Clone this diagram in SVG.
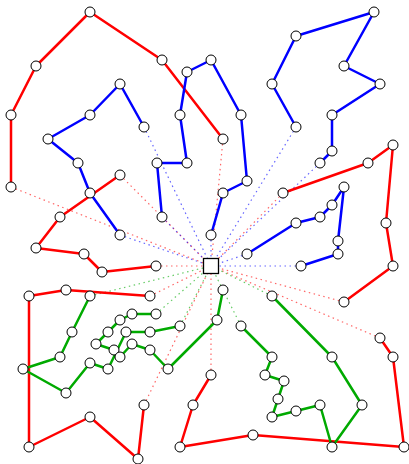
<svg xmlns="http://www.w3.org/2000/svg" width="409" height="464" viewBox="0 0 409 464">
<style>
.r{stroke:#ff0000}.b{stroke:#0000ff}.g{stroke:#00aa00}
.route{fill:none;stroke-width:2.5;stroke-linejoin:round;stroke-linecap:round}
.dot{fill:none;stroke-width:1.2;stroke-dasharray:1.5 3.5;opacity:0.6}
.node circle{fill:#fff;stroke:#000;stroke-width:1}
.depot rect{fill:#fff;stroke:#000;stroke-width:1.3}
</style>
<rect width="409" height="464" fill="#fff"/>
<g id="connectors">
<g id="depot-links">
<path class="dot r" d="M11,187L211,266M223,139L211,266M120,175L211,266M156,266L211,266M150,296L211,266M144,405L211,266M211,375L211,266M380,338L211,266M344,302L211,266M283,193L211,266"/>
<path class="dot b" d="M120,235L211,266M144,127L211,266M162,217L211,266M211,235L211,266M296,127L211,266M320,163L211,266M247,254L211,266M301,266L211,266"/>
<path class="dot g" d="M90,296L211,266M180,326L211,266M156,314L211,266M223,290L211,266M241,326L211,266M272,296L211,266"/>
</g>
<path id="r1" class="route r" d="M11,187L11,115L36,66L90,12L162,60L223,139"/>
<path id="r2" class="route r" d="M120,175L60,217L36,248L84,254L102,272L156,266"/>
<path id="r3" class="route r" d="M150,296L66,290L29,296L29,447L90,417L138,459L144,405"/>
<path id="r4" class="route r" d="M211,375L193,405L180,447L253,435L404,447L393,357L380,338"/>
<path id="r5" class="route r" d="M344,302L393,266L386,223L393,145L368,163L283,193"/>
<path id="b1" class="route b" d="M120,235L90,193L78,163L48,139L90,115L120,84L144,127"/>
<path id="b2" class="route b" d="M162,217L157,163L187,163L180,115L187,72L211,60L241,115L247,181L223,193L211,235"/>
<path id="b3" class="route b" d="M296,127L272,84L296,36L374,12L344,66L380,84L332,115L332,151L320,163"/>
<path id="b4" class="route b" d="M247,254L296,223L320,217L332,205L344,187L338,241L338,254L301,266"/>
<path id="g1" class="route g" d="M90,296L72,332L60,357L23,369L66,393L90,363L108,369L126,332L150,332L180,326"/>
<path id="g2" class="route g" d="M156,314L132,314L120,320L108,332L96,344L114,350L120,357L132,344L150,350L168,369L217,320L223,290"/>
<path id="g3" class="route g" d="M241,326L272,357L265,375L284,381L278,399L272,417L296,411L320,405L332,447L362,405L332,357L272,296"/>
</g>
<g id="nodes">
<g id="n1" class="node"><circle cx="11" cy="187" r="5"/></g>
<g id="n2" class="node"><circle cx="11" cy="115" r="5"/></g>
<g id="n3" class="node"><circle cx="36" cy="66" r="5"/></g>
<g id="n4" class="node"><circle cx="90" cy="12" r="5"/></g>
<g id="n5" class="node"><circle cx="162" cy="60" r="5"/></g>
<g id="n6" class="node"><circle cx="223" cy="139" r="5"/></g>
<g id="n7" class="node"><circle cx="120" cy="175" r="5"/></g>
<g id="n8" class="node"><circle cx="60" cy="217" r="5"/></g>
<g id="n9" class="node"><circle cx="36" cy="248" r="5"/></g>
<g id="n10" class="node"><circle cx="84" cy="254" r="5"/></g>
<g id="n11" class="node"><circle cx="102" cy="272" r="5"/></g>
<g id="n12" class="node"><circle cx="156" cy="266" r="5"/></g>
<g id="n13" class="node"><circle cx="150" cy="296" r="5"/></g>
<g id="n14" class="node"><circle cx="66" cy="290" r="5"/></g>
<g id="n15" class="node"><circle cx="29" cy="296" r="5"/></g>
<g id="n16" class="node"><circle cx="29" cy="447" r="5"/></g>
<g id="n17" class="node"><circle cx="90" cy="417" r="5"/></g>
<g id="n18" class="node"><circle cx="138" cy="459" r="5"/></g>
<g id="n19" class="node"><circle cx="144" cy="405" r="5"/></g>
<g id="n20" class="node"><circle cx="211" cy="375" r="5"/></g>
<g id="n21" class="node"><circle cx="193" cy="405" r="5"/></g>
<g id="n22" class="node"><circle cx="180" cy="447" r="5"/></g>
<g id="n23" class="node"><circle cx="253" cy="435" r="5"/></g>
<g id="n24" class="node"><circle cx="404" cy="447" r="5"/></g>
<g id="n25" class="node"><circle cx="393" cy="357" r="5"/></g>
<g id="n26" class="node"><circle cx="380" cy="338" r="5"/></g>
<g id="n27" class="node"><circle cx="344" cy="302" r="5"/></g>
<g id="n28" class="node"><circle cx="393" cy="266" r="5"/></g>
<g id="n29" class="node"><circle cx="386" cy="223" r="5"/></g>
<g id="n30" class="node"><circle cx="393" cy="145" r="5"/></g>
<g id="n31" class="node"><circle cx="368" cy="163" r="5"/></g>
<g id="n32" class="node"><circle cx="283" cy="193" r="5"/></g>
<g id="n33" class="node"><circle cx="120" cy="235" r="5"/></g>
<g id="n34" class="node"><circle cx="90" cy="193" r="5"/></g>
<g id="n35" class="node"><circle cx="78" cy="163" r="5"/></g>
<g id="n36" class="node"><circle cx="48" cy="139" r="5"/></g>
<g id="n37" class="node"><circle cx="90" cy="115" r="5"/></g>
<g id="n38" class="node"><circle cx="120" cy="84" r="5"/></g>
<g id="n39" class="node"><circle cx="144" cy="127" r="5"/></g>
<g id="n40" class="node"><circle cx="162" cy="217" r="5"/></g>
<g id="n41" class="node"><circle cx="157" cy="163" r="5"/></g>
<g id="n42" class="node"><circle cx="187" cy="163" r="5"/></g>
<g id="n43" class="node"><circle cx="180" cy="115" r="5"/></g>
<g id="n44" class="node"><circle cx="187" cy="72" r="5"/></g>
<g id="n45" class="node"><circle cx="211" cy="60" r="5"/></g>
<g id="n46" class="node"><circle cx="241" cy="115" r="5"/></g>
<g id="n47" class="node"><circle cx="247" cy="181" r="5"/></g>
<g id="n48" class="node"><circle cx="223" cy="193" r="5"/></g>
<g id="n49" class="node"><circle cx="211" cy="235" r="5"/></g>
<g id="n50" class="node"><circle cx="296" cy="127" r="5"/></g>
<g id="n51" class="node"><circle cx="272" cy="84" r="5"/></g>
<g id="n52" class="node"><circle cx="296" cy="36" r="5"/></g>
<g id="n53" class="node"><circle cx="374" cy="12" r="5"/></g>
<g id="n54" class="node"><circle cx="344" cy="66" r="5"/></g>
<g id="n55" class="node"><circle cx="380" cy="84" r="5"/></g>
<g id="n56" class="node"><circle cx="332" cy="115" r="5"/></g>
<g id="n57" class="node"><circle cx="332" cy="151" r="5"/></g>
<g id="n58" class="node"><circle cx="320" cy="163" r="5"/></g>
<g id="n59" class="node"><circle cx="247" cy="254" r="5"/></g>
<g id="n60" class="node"><circle cx="296" cy="223" r="5"/></g>
<g id="n61" class="node"><circle cx="320" cy="217" r="5"/></g>
<g id="n62" class="node"><circle cx="332" cy="205" r="5"/></g>
<g id="n63" class="node"><circle cx="344" cy="187" r="5"/></g>
<g id="n64" class="node"><circle cx="338" cy="241" r="5"/></g>
<g id="n65" class="node"><circle cx="338" cy="254" r="5"/></g>
<g id="n66" class="node"><circle cx="301" cy="266" r="5"/></g>
<g id="n67" class="node"><circle cx="90" cy="296" r="5"/></g>
<g id="n68" class="node"><circle cx="72" cy="332" r="5"/></g>
<g id="n69" class="node"><circle cx="60" cy="357" r="5"/></g>
<g id="n70" class="node"><circle cx="23" cy="369" r="5"/></g>
<g id="n71" class="node"><circle cx="66" cy="393" r="5"/></g>
<g id="n72" class="node"><circle cx="90" cy="363" r="5"/></g>
<g id="n73" class="node"><circle cx="108" cy="369" r="5"/></g>
<g id="n74" class="node"><circle cx="126" cy="332" r="5"/></g>
<g id="n75" class="node"><circle cx="150" cy="332" r="5"/></g>
<g id="n76" class="node"><circle cx="180" cy="326" r="5"/></g>
<g id="n77" class="node"><circle cx="156" cy="314" r="5"/></g>
<g id="n78" class="node"><circle cx="132" cy="314" r="5"/></g>
<g id="n79" class="node"><circle cx="120" cy="320" r="5"/></g>
<g id="n80" class="node"><circle cx="108" cy="332" r="5"/></g>
<g id="n81" class="node"><circle cx="96" cy="344" r="5"/></g>
<g id="n82" class="node"><circle cx="114" cy="350" r="5"/></g>
<g id="n83" class="node"><circle cx="120" cy="357" r="5"/></g>
<g id="n84" class="node"><circle cx="132" cy="344" r="5"/></g>
<g id="n85" class="node"><circle cx="150" cy="350" r="5"/></g>
<g id="n86" class="node"><circle cx="168" cy="369" r="5"/></g>
<g id="n87" class="node"><circle cx="217" cy="320" r="5"/></g>
<g id="n88" class="node"><circle cx="223" cy="290" r="5"/></g>
<g id="n89" class="node"><circle cx="241" cy="326" r="5"/></g>
<g id="n90" class="node"><circle cx="272" cy="357" r="5"/></g>
<g id="n91" class="node"><circle cx="265" cy="375" r="5"/></g>
<g id="n92" class="node"><circle cx="284" cy="381" r="5"/></g>
<g id="n93" class="node"><circle cx="278" cy="399" r="5"/></g>
<g id="n94" class="node"><circle cx="272" cy="417" r="5"/></g>
<g id="n95" class="node"><circle cx="296" cy="411" r="5"/></g>
<g id="n96" class="node"><circle cx="320" cy="405" r="5"/></g>
<g id="n97" class="node"><circle cx="332" cy="447" r="5"/></g>
<g id="n98" class="node"><circle cx="362" cy="405" r="5"/></g>
<g id="n99" class="node"><circle cx="332" cy="357" r="5"/></g>
<g id="n100" class="node"><circle cx="272" cy="296" r="5"/></g>
<g id="depot" class="depot"><rect x="203.5" y="258.5" width="15" height="15"/></g>
</g>
</svg>
